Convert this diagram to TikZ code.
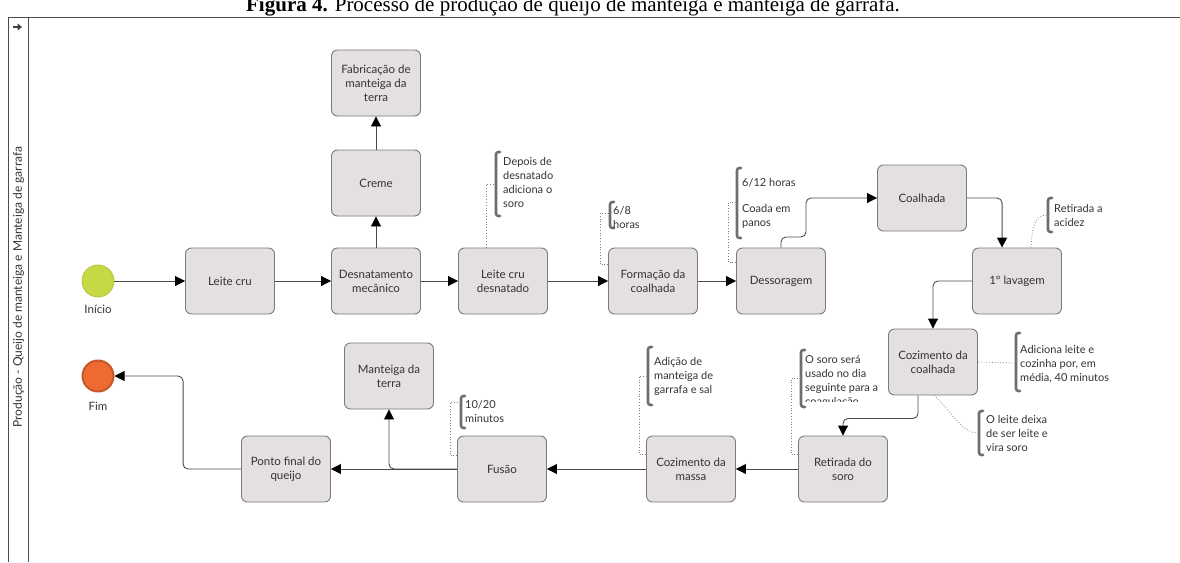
\documentclass[tikz,border=0pt]{standalone}
\usepackage{fontspec}
\setmainfont{Lato}
\newfontfamily\titlefont{Liberation Serif}
\usetikzlibrary{arrows.meta}
\definecolor{boxfill}{HTML}{E3E0DF}
\definecolor{boxline}{HTML}{7A7A7A}
\definecolor{arrline}{HTML}{4A4A4A}
\definecolor{startc}{HTML}{C6D845}
\definecolor{startb}{HTML}{B2C43C}
\definecolor{endc}{HTML}{EE6A30}
\definecolor{endb}{HTML}{C9552A}
\definecolor{brk}{HTML}{6E6E6E}
\definecolor{txt}{HTML}{333333}
\begin{document}
\begin{tikzpicture}[x=1pt,y=-1pt,
 task/.style={draw=boxline,fill=boxfill,rounded corners=6pt,minimum width=89pt,minimum height=66pt,align=center,font=\fontsize{11.5}{14}\selectfont,line width=0.9pt,text=txt,inner sep=2pt},
 flow/.style={draw=arrline,line width=0.9pt,-{Triangle[length=10pt,width=10pt,color=black]},rounded corners=5pt},
 note/.style={align=left,anchor=north west,font=\fontsize{11}{14}\selectfont,inner sep=0pt,text=txt},
 bracketline/.style={draw=brk,line width=2.6pt,rounded corners=2.5pt,line cap=round},
 assoc/.style={draw=gray,dotted,line width=0.8pt},
 lbl/.style={font=\fontsize{11.5}{13}\selectfont,text=txt,inner sep=0pt}
]
\useasboundingbox (0,0) rectangle (1180,562);
% title
\node[font=\titlefont\fontsize{21}{21}\selectfont,anchor=base,inner sep=0pt] (title) at (573,12) {\textbf{Figura 4.} Processo de produção de queijo de manteiga e manteiga de garrafa.};
% lane
\draw[line width=0.8pt,black!70] (8,562) -- (8,17) -- (1180,17);
\draw[line width=0.8pt,black!70] (28,17) -- (28,562);
\node[rotate=90,font=\fontsize{12}{12}\selectfont,text=txt] (lane) at (18.5,287) {Produção - Queijo de manteiga e Manteiga de garrafa};
\draw[line width=1.8pt,black!75,-{Triangle[length=4.5pt,width=7pt]}] (13,27) -- (22,27);
% events
\node[circle,fill=startc,draw=startb,line width=0.8pt,minimum size=32pt,inner sep=0pt] (start) at (98,281) {};
\node[lbl] (startlbl) at (98,309) {Início};
\node[circle,fill=endc,draw=endb,line width=2pt,minimum size=31pt,inner sep=0pt] (fim) at (98,376) {};
\node[lbl] (fimlbl) at (98,406) {Fim};
% tasks
\node[task] (leite) at (230,281) {Leite cru};
\node[task] (desn) at (376,281) {Desnatamento\\mecânico};
\node[task] (creme) at (376,183) {Creme};
\node[task] (fab) at (376,83) {Fabricação de\\manteiga da\\terra};
\node[task] (lcd) at (503,281) {Leite cru\\desnatado};
\node[task] (form) at (653,281) {Formação da\\coalhada};
\node[task] (dess) at (781,281) {Dessoragem};
\node[task] (coal) at (922,198) {Coalhada};
\node[task] (lav) at (1017,281) {1º lavagem};
\node[task] (cozc) at (933,362) {Cozimento da\\coalhada};
\node[task] (ret) at (843,469) {Retirada do\\soro};
\node[task] (cozm) at (691,469) {Cozimento da\\massa};
\node[task] (fus) at (502,469) {Fusão};
\node[task] (mant) at (389,376) {Manteiga da\\terra};
\node[task] (ponto) at (286,469) {Ponto final do\\queijo};
% flows
\draw[flow] (start) -- (leite);
\draw[flow] (leite) -- (desn);
\draw[flow] (desn) -- (creme);
\draw[flow] (creme) -- (fab);
\draw[flow] (desn) -- (lcd);
\draw[flow] (lcd) -- (form);
\draw[flow] (form) -- (dess);
\draw[flow] (dess.north) |- (806,237) |- (coal.west);
\draw[flow] (coal.east) -| ([xshift=30pt]lav.north west);
\draw[flow] (lav.west) -| (cozc.north);
\draw[flow] ([xshift=-15pt]cozc.south) -- ++(0,23) -| (ret.north);
\draw[flow] (ret) -- (cozm);
\draw[flow] (cozm) -- (fus);
\draw[flow] (fus) -- (ponto);
\draw[flow] (fus.west) -| (mant.south);
\draw[flow] (ponto.west) -- ++(-58,0) |- (fim.east);
% annotations
% 1
\draw[bracketline] (500,152) -- (496,152) -- (496,216) -- (500,216);
\coordinate (b1) at (495,184);
\node[note] (n1) at (503,157) {Depois de\\desnatado\\adiciona o\\soro};
\draw[assoc] ([xshift=28pt]lcd.north west) |- (b1);
% 2
\draw[bracketline] (614,202) -- (610,202) -- (610,228) -- (614,228);
\coordinate (b2) at (609,213);
\node[note] (n2) at (613,206) {6/8\\horas};
\draw[assoc] ([yshift=-17pt]form.north west) -- ++(-8,0) |- (b2);
% 3
\draw[bracketline] (741,168) -- (737,168) -- (737,238) -- (741,238);
\coordinate (b3) at (736,202);
\node[note] (n3) at (742,178) {6/12 horas\\[12pt]Coada em\\panos};
\draw[assoc] ([yshift=-15pt]dess.north west) -- ++(-8,0) |- (b3);
% 4
\draw[bracketline] (1052,198) -- (1048,198) -- (1048,232) -- (1052,232);
\coordinate (b4) at (1047,215);
\node[note] (n4) at (1054,204) {Retirada a\\acidez};
\draw[assoc] ([xshift=59pt]lav.north west) .. controls (1032,226) and (1035,215) .. (b4);
% 5
\draw[bracketline] (1020,333) -- (1016,333) -- (1016,391) -- (1020,391);
\coordinate (b5) at (1015,363);
\node[note] (n5) at (1020,345) {Adiciona leite e\\cozinha por, em\\média, 40 minutos};
\draw[assoc] (cozc.east) -- (b5);
% 6
\draw[bracketline] (983,411) -- (979,411) -- (979,455) -- (983,455);
\coordinate (b6) at (978,433);
\node[note] (n6) at (986,415) {O leite deixa\\de ser leite e\\vira soro};
\draw[assoc] ([xshift=-44pt]cozc.south east) .. controls (955,415) and (962,433) .. (b6);
% 7
\draw[bracketline] (805,350) -- (801,350) -- (801,407) -- (805,407);
\coordinate (b7) at (800,378);
\begin{scope}
\clip (802,340) rectangle (920,401);
\node[note] (n7) at (805,355) {O soro será\\usado no dia\\seguinte para a\\coagulação};
\end{scope}
\draw[assoc] ([yshift=-19pt]ret.north west) -- ++(-7,0) |- (b7);
% 8
\draw[bracketline] (652,347) -- (648,347) -- (648,405) -- (652,405);
\coordinate (b8) at (647,376);
\node[note] (n8) at (654,357) {Adição de\\manteiga de\\garrafa e sal};
\draw[assoc] ([yshift=-19pt]cozm.north west) -- ++(-7,0) |- (b8);
% 9
\draw[bracketline] (465,396) -- (461,396) -- (461,428) -- (465,428);
\coordinate (b9) at (460,402);
\node[note] (n9) at (465,400) {10/20\\minutos};
\draw[assoc] ([yshift=-20pt]fus.north west) -- ++(-7,0) |- (b9);
\end{tikzpicture}
\end{document}
